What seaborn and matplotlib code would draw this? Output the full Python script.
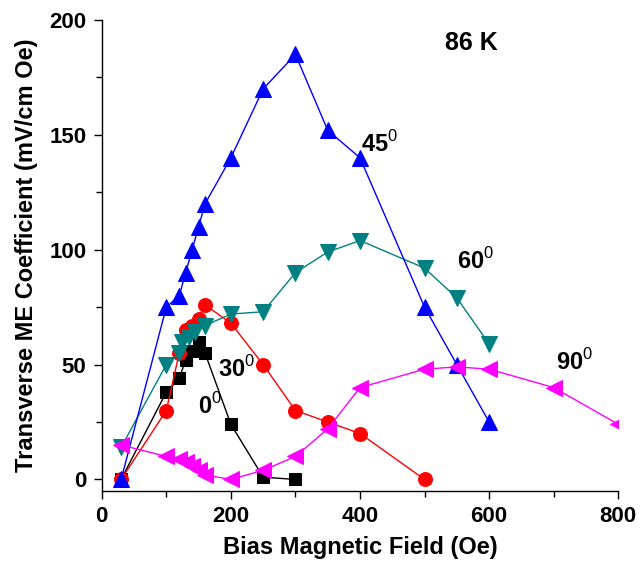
import matplotlib
matplotlib.use("Agg")
import matplotlib.pyplot as plt
import seaborn as sns
import pandas as pd
from matplotlib.ticker import MultipleLocator

# Data (Bias field in Oe, ME coefficient in mV/cm Oe)
x_0 = [30, 100, 120, 130, 140, 150, 160, 200, 250, 300]
y_0 = [0, 38, 44, 52, 56, 60, 55, 24, 1, 0]

x_30 = [30, 100, 120, 130, 140, 150, 160, 200, 250, 300, 350, 400, 500]
y_30 = [0, 30, 55, 65, 67, 70, 76, 68, 50, 30, 25, 20, 0]

x_45 = [30, 100, 120, 130, 140, 150, 160, 200, 250, 300, 350, 400, 500, 550, 600]
y_45 = [0, 75, 80, 90, 100, 110, 120, 140, 170, 185, 152, 140, 75, 50, 25]

x_60 = [30, 100, 120, 125, 135, 145, 160, 200, 250, 300, 350, 400, 500, 550, 600]
y_60 = [14, 50, 55, 60, 62, 64, 67, 72, 73, 90, 99, 104, 92, 79, 59]

x_90 = [30, 100, 120, 130, 140, 150, 160, 200, 250, 300, 350, 400, 500, 550, 600, 700, 800]
y_90 = [15, 10, 9, 7.5, 6, 4, 2, 0, 4, 10, 22, 40, 48, 49, 48, 40, 24]

labels = ["0", "30", "45", "60", "90"]

sns.set_theme(style="ticks")
plt.rcParams["font.family"] = ["Liberation Sans", "DejaVu Sans"]
plt.rcParams["font.weight"] = "bold"
plt.rcParams["mathtext.fontset"] = "custom"
plt.rcParams["mathtext.rm"] = "Liberation Sans:normal"
plt.rcParams["mathtext.bf"] = "Liberation Sans:bold"
for k in ["text.color", "axes.labelcolor", "xtick.color", "ytick.color", "axes.edgecolor"]:
    plt.rcParams[k] = "black"

fig = plt.figure(figsize=(6.44, 5.63), dpi=100)
ax = fig.add_axes([0.158, 0.128, 0.802, 0.8365])

series = [
    (x_0, y_0, "black", "s", 9),
    (x_30, y_30, "#ff0000", "o", 10),
    (x_60, y_60, "#008080", "v", 11),
    (x_45, y_45, "#0000ff", "^", 11),
    (x_90, y_90, "#ff00ff", "<", 11),
]
for xs, ys, c, m, ms in series:
    df = pd.DataFrame({"x": xs, "y": ys})
    sns.lineplot(data=df, x="x", y="y", ax=ax, color=c, marker=m,
                 markersize=ms, markeredgecolor=c, linewidth=1.0,
                 sort=False, estimator=None)

ax.set_xlim(0, 800)
ax.set_ylim(-5, 200)
ax.xaxis.set_major_locator(MultipleLocator(200))
ax.xaxis.set_minor_locator(MultipleLocator(100))
ax.yaxis.set_major_locator(MultipleLocator(50))
ax.yaxis.set_minor_locator(MultipleLocator(25))
ax.tick_params(which="major", direction="out", length=6, width=1, labelsize=16, pad=5)
ax.tick_params(which="minor", direction="out", length=4, width=1)
for lab in ax.get_xticklabels() + ax.get_yticklabels():
    lab.set_fontweight("bold")
for s in ["top", "right"]:
    ax.spines[s].set_visible(False)
for s in ["left", "bottom"]:
    ax.spines[s].set_linewidth(1)
    ax.spines[s].set_color("black")

ax.set_xlabel("Bias Magnetic Field (Oe)", fontsize=17, fontweight="bold", labelpad=6)
ax.set_ylabel("Transverse ME Coefficient (mV/cm Oe)", fontsize=17, fontweight="bold", labelpad=8)

def ann(x, y, txt):
    ax.text(x, y, r"$\mathbf{%s}^{\mathrm{0}}$" % txt, fontsize=17, ha="left", va="center")

ann(402, 146, "45")
ann(550, 95, "60")
ann(704, 51, "90")
ann(180, 48, "30")
ann(149, 32, "0")
ax.text(532, 190, "86 K", fontsize=18, fontweight="bold", ha="left", va="center")

fig.savefig("out.png", dpi=100)
